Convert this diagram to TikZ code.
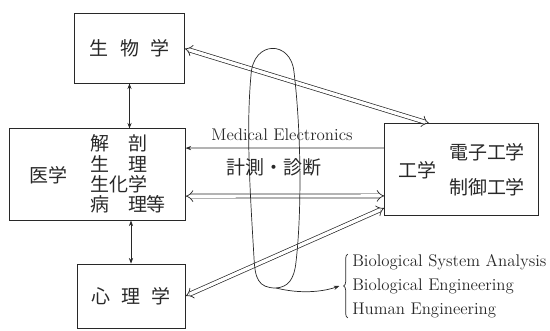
\documentclass[tikz,border=0pt]{standalone}
\usepackage{fontspec}
\newfontfamily\jp{Noto Sans CJK JP}
\usetikzlibrary{arrows.meta,decorations.pathreplacing}
\definecolor{ink}{RGB}{40,40,40}

\begin{document}
\begin{tikzpicture}[
  x=0.025cm, y=-0.025cm,
  box/.style={draw=ink, line width=0.6pt, inner sep=0pt},
  jt/.style={font=\jp\fontsize{13.5}{14.5}\selectfont, text=ink, inner sep=0pt},
  lt/.style={font=\fontsize{12}{17}\selectfont, text=ink, inner sep=0pt},
  dbl/.style={draw=ink, double, double distance=2.4pt, line width=0.5pt,
              arrows={big-big}},
  sa/.style={draw=ink, line width=0.5pt},
  sm/.tip={Stealth[length=4pt,width=3pt]},
  big/.tip={Implies[scale=1.7]},
]
\useasboundingbox (0,0) rectangle (550,330);

% ============ fields ============
\node[box, jt, minimum width=2.73cm, minimum height=1.73cm] (bio) at (129.5,48.5)
  {生\hspace{0.6em}物\hspace{0.6em}学};
\node[box, minimum width=4.38cm, minimum height=2.28cm] (med) at (97.5,174.5) {};
\node[jt] (medname) at (48,175) {医学};
\node[jt, align=left] (medsub) at (128,174) {解\quad 剖\\生\quad 理\\生化学\\病\quad 理等};
\node[box, jt, minimum width=2.70cm, minimum height=1.60cm] (psy) at (131,296)
  {心\hspace{0.6em}理\hspace{0.6em}学};
\node[box, minimum width=3.83cm, minimum height=2.28cm] (eng) at (461.5,169.5) {};
\node[jt] (engname) at (417,170) {工学};
\node[jt] (elec) at (487,152) {電子工学};
\node[jt] (ctrl) at (487,187) {制御工学};

% ============ links ============
\draw[sa, sm-sm] (bio.south) -- (bio.south |- med.north);
\draw[sa, sm-sm] (psy.north |- med.south) -- (psy.north);
\draw[dbl] (bio.east) -- ([xshift=-0.8cm]eng.north);
\draw[dbl] ([yshift=-0.54cm]med.east) -- ([yshift=-0.66cm]eng.west);
\draw[dbl] (psy.east) -- ([yshift=-0.96cm]eng.west);
\draw[sa, -sm] ([yshift=0.54cm]eng.west) -- ([yshift=0.66cm]med.east);

\node[lt] (melec) at (282,135) {Medical Electronics};
\node[jt] (diag) at (274,167) {計測・診断};

% the loop and where it leads
\node[lt, align=left, anchor=west] (list) at (352,286)
  {Biological System Analysis\\Biological Engineering\\Human Engineering};
\draw[sa, decorate, decoration={brace, amplitude=3pt}]
  ([xshift=-3pt]list.south west) -- ([xshift=-3pt]list.north west);
\coordinate (end) at ([xshift=-9pt]list.west);

\draw[sa] (276,288) .. controls (258,288) and (255,278) .. (254,258)
  .. controls (250,190) and (246,130) .. (251,75)
  .. controls (253,40) and (291,40) .. (294,72)
  .. controls (301,130) and (302,210) .. (296,262)
  .. controls (294,280) and (288,287) .. (276,288);
\draw[sa, -sm] (276,288) .. controls (300,294) and (322,292) .. (end);

\end{tikzpicture}
\end{document}
